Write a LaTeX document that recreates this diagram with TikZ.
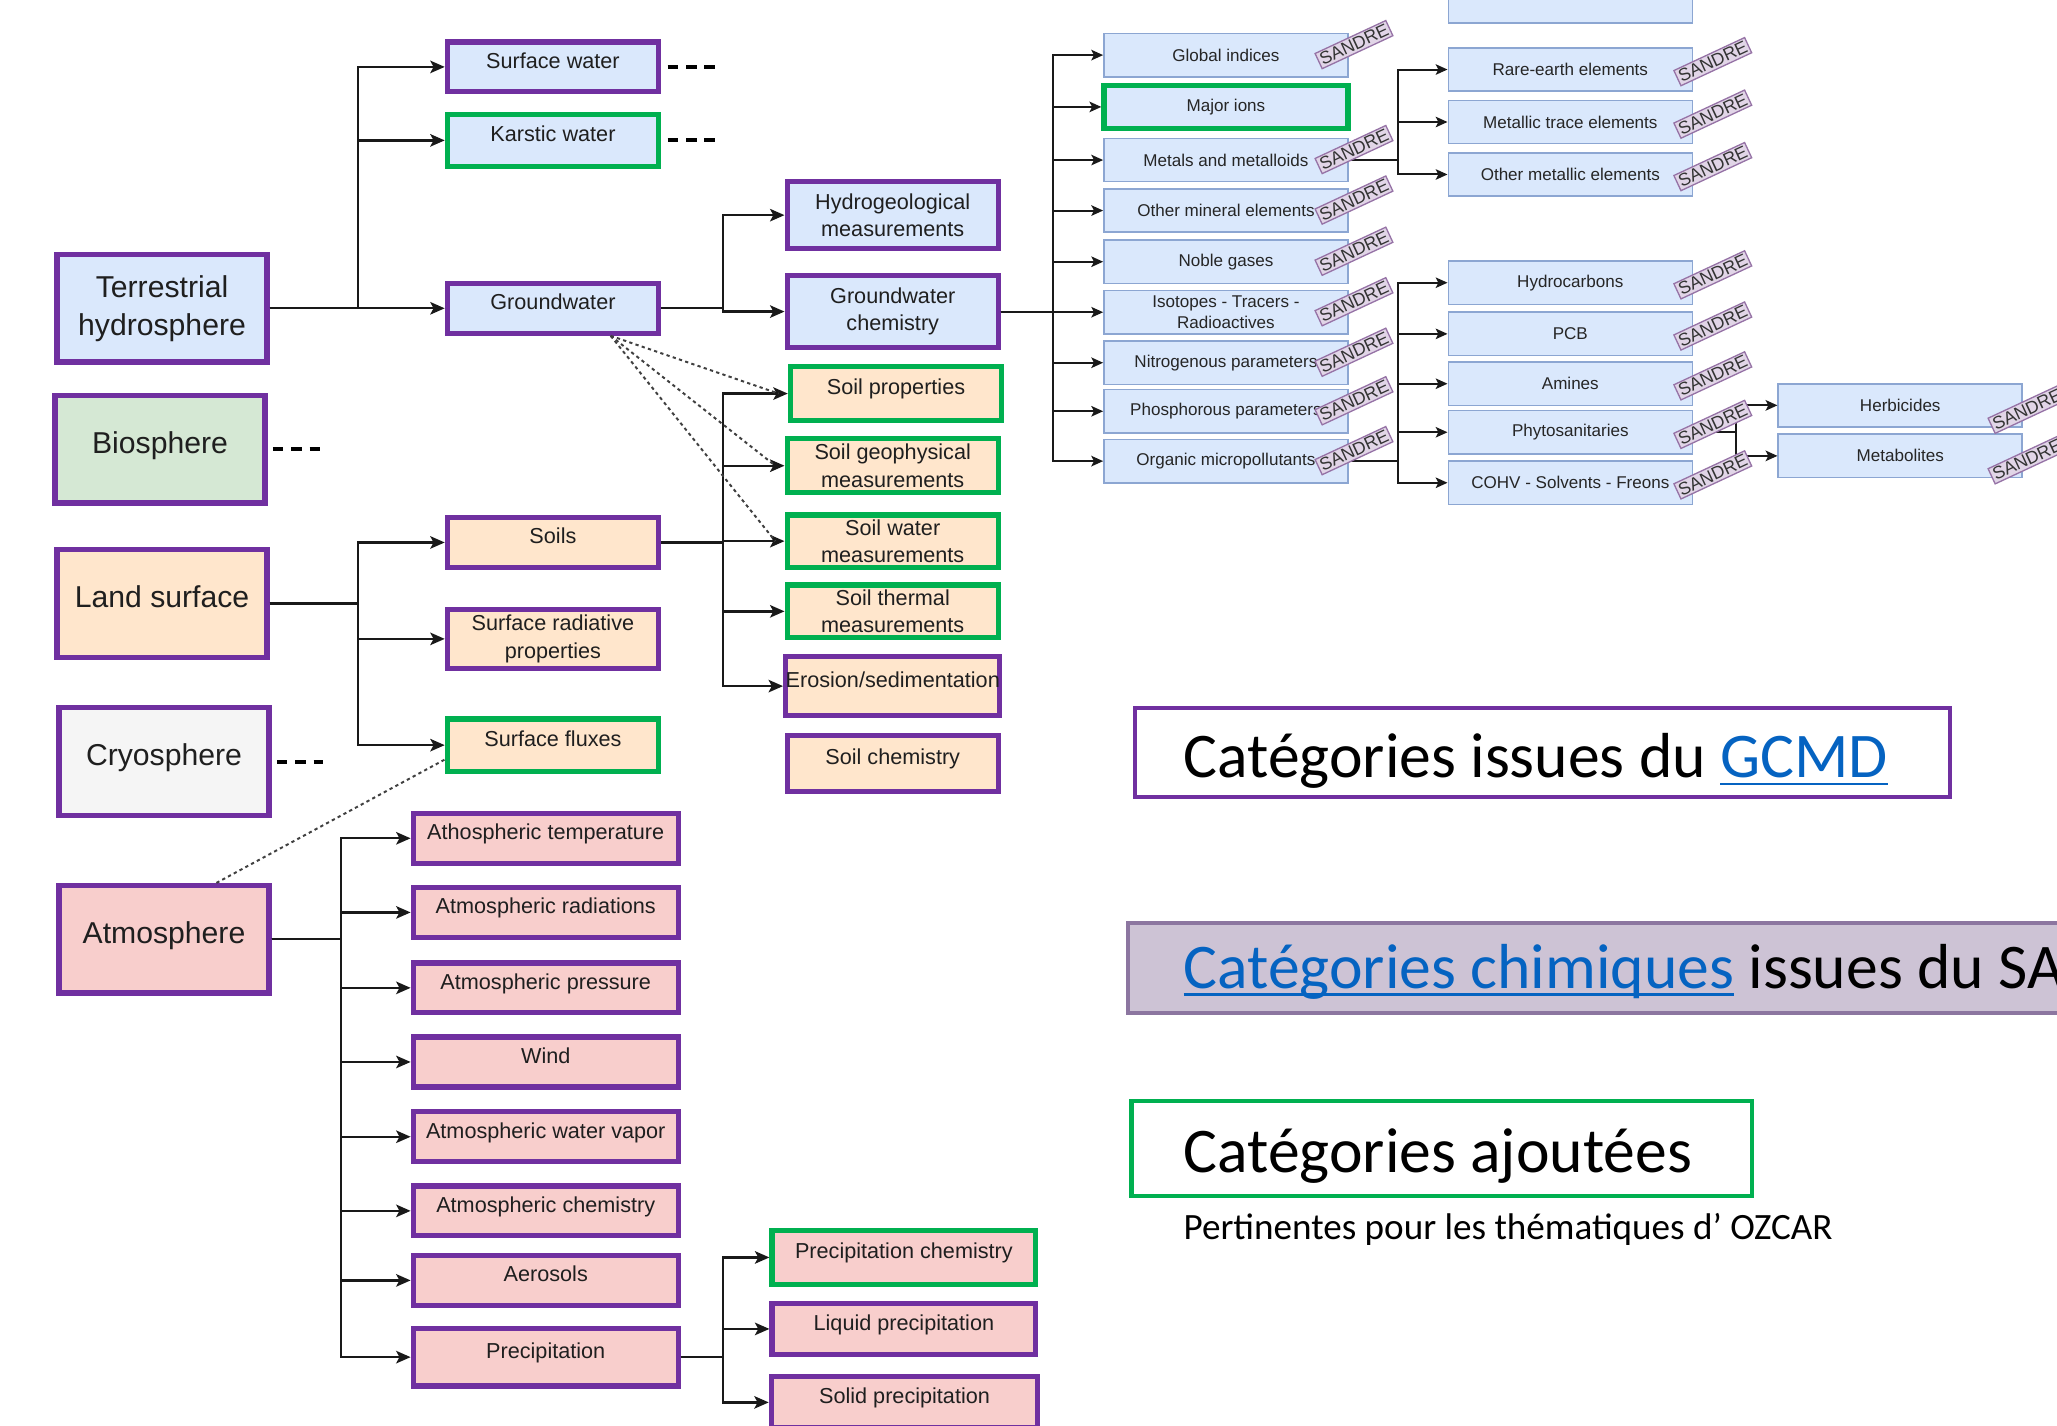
\documentclass[tikz,border=0pt]{standalone}
\usepackage{fontspec}
\usepackage{xcolor}
\usetikzlibrary{arrows.meta,positioning,calc}
\newfontfamily\diafont{Liberation Sans}
\newfontfamily\legfont{Carlito}
\definecolor{cpurple}{RGB}{112,48,160}
\definecolor{cgreen}{RGB}{0,176,80}
\definecolor{cblue}{RGB}{218,232,252}
\definecolor{cblueline}{RGB}{140,166,210}
\definecolor{cpeach}{RGB}{255,230,204}
\definecolor{cpink}{RGB}{248,206,204}
\definecolor{cmint}{RGB}{213,232,212}
\definecolor{cgray}{RGB}{245,245,245}
\definecolor{ctag}{RGB}{225,213,231}
\definecolor{ctagline}{RGB}{150,115,166}
\definecolor{clink}{RGB}{5,99,193}
\definecolor{clegfill}{RGB}{205,195,213}
\definecolor{clegline}{RGB}{140,118,160}
\newcommand{\bigtxt}{\diafont\fontsize{23}{29}\selectfont}
\newcommand{\midtxt}{\diafont\fontsize{16.5}{21}\selectfont}
\newcommand{\chemtxt}{\diafont\fontsize{13}{15.5}\selectfont}
\newcommand{\legbig}{\legfont\fontsize{48.5}{56}\selectfont}
\newcommand{\legsmall}{\legfont\fontsize{28.3}{32}\selectfont}
\newcommand{\lnk}[1]{\textcolor{clink}{\setbox0\hbox{#1}\rlap{\rule[-5.5pt]{\wd0}{1.8pt}}\box0}}

\begin{document}
\begin{tikzpicture}[x=1pt,y=-1pt,>={Stealth[length=11pt,width=9.5pt,inset=2.5pt]},
  cat/.style={draw=cpurple,line width=4pt,align=center,inner sep=0pt,text=black!88},
  maincat/.style={cat,minimum width=160pt,minimum height=82pt,font=\bigtxt},
  subcat/.style={cat,minimum width=161pt,font=\midtxt},
  uptext/.style={text depth=10pt},
  added/.style={draw=cgreen},
  chem/.style={draw=cblueline,line width=1.2pt,fill=cblue,minimum width=186pt,
    minimum height=33pt,inner sep=0pt,align=center,font=\chemtxt,text=black!85},
  sandre/.style={draw=ctagline,fill=ctag,line width=1pt,rotate=25,
    font=\diafont\fontsize{13.5}{13.5}\selectfont,inner sep=1.6pt,text=black!80},
  con/.style={line width=1.8pt,black!90,->},
  elink/.style={line width=1.5pt,black!90,-{Stealth[length=9pt,width=8pt,inset=2pt]}},
  dotcon/.style={line width=1.5pt,black!75,dash pattern=on 2.5pt off 2.5pt},
  dash3/.style={line width=3pt,dash pattern=on 8pt off 6pt},
  legtxt/.style={inner sep=0pt,anchor=base west}]
\useasboundingbox (0,0) rectangle (1568,1087);
\clip (0,0) rectangle (1568,1087);

% main categories
\node[maincat,fill=cblue] (terr) at (123.5,235) {Terrestrial\\hydrosphere};
\node[maincat,uptext,fill=cmint] (bio) at (122,342.5) {Biosphere};
\node[maincat,uptext,fill=cpeach] (land) at (123.5,460) {Land surface};
\node[maincat,uptext,fill=cgray] (cryo) at (125,580.5) {Cryosphere};
\node[maincat,uptext,fill=cpink] (atmo) at (125,716) {Atmosphere};

% second level
\node[subcat,uptext,fill=cblue,minimum height=38pt] (surf) at (421.5,51) {Surface water};
\node[subcat,uptext,added,fill=cblue,minimum height=40pt] (karst) at (421.5,107) {Karstic water};
\node[subcat,uptext,fill=cblue,minimum height=38pt] (gw) at (421.5,235) {Groundwater};
\node[subcat,uptext,fill=cpeach,minimum height=38pt] (soils) at (421.5,413.5) {Soils};
\node[subcat,fill=cpeach,minimum height=45pt] (srad) at (421.5,487) {Surface radiative\\properties};
\node[subcat,uptext,added,fill=cpeach,minimum height=40pt] (sflux) at (421.5,568) {Surface fluxes};
\foreach \nm/\y/\txt in {atemp/639/Athospheric temperature, arad/695.5/Atmospheric radiations,
    apres/753/Atmospheric pressure, wind/809.5/Wind, avap/866.5/Atmospheric water vapor,
    achem/923/Atmospheric chemistry, aero/976/Aerosols}
  \node[subcat,uptext,fill=cpink,minimum width=202pt,minimum height=38pt] (\nm) at (416,\y) {\txt};
\node[subcat,uptext,fill=cpink,minimum width=202pt,minimum height=44pt] (prec) at (416,1034.5) {Precipitation};

% third level
\node[subcat,fill=cblue,minimum height=51pt] (hydro) at (680.5,164) {Hydrogeological\\measurements};
\node[subcat,fill=cblue,minimum height=55pt] (gwchem) at (680.5,237.5) {Groundwater\\chemistry};
\node[subcat,uptext,added,fill=cpeach,minimum height=41pt] (sprop) at (683,300) {Soil properties};
\node[subcat,added,fill=cpeach,minimum height=41pt] (sgeo) at (680.5,355) {Soil geophysical\\measurements};
\node[subcat,added,fill=cpeach,minimum height=40pt] (swat) at (680.5,412.5) {Soil water\\measurements};
\node[subcat,added,fill=cpeach,minimum height=40pt] (stherm) at (680.5,466) {Soil thermal\\measurements};
\node[subcat,uptext,fill=cpeach,minimum height=45pt] (eros) at (680.5,523) {Erosion/sedimentation};
\node[subcat,uptext,fill=cpeach,minimum height=43pt] (schem) at (680.5,582) {Soil chemistry};
\node[subcat,uptext,added,fill=cpink,minimum width=201pt,minimum height=41pt] (pchem) at (689,958.5) {Precipitation chemistry};
\node[subcat,uptext,fill=cpink,minimum width=201pt,minimum height=39pt] (pliq) at (689,1013) {Liquid precipitation};
\node[subcat,uptext,fill=cpink,minimum width=203pt,minimum height=39pt] (psol) at (689.5,1069) {Solid precipitation};

% chemistry (SANDRE)
\foreach \nm/\y/\txt in {glob/42/Global indices, metal/122/Metals and metalloids,
    omin/160.5/Other mineral elements, noble/199.5/Noble gases,
    iso/238/{Isotopes - Tracers -\\Radioactives}, nitro/276.5/Nitrogenous parameters,
    phos/313.5/Phosphorous parameters, orga/351.5/Organic micropollutants}
  \node[chem] (\nm) at (934.5,\y) {\txt};
\node[chem,draw=cgreen,line width=4pt] (major) at (934.5,81.5) {Major ions};
\node[chem] (prev) at (1197,1) {};
\foreach \nm/\y/\txt in {rare/53/Rare-earth elements, mtrace/93/Metallic trace elements,
    ometal/133/Other metallic elements, hydroc/215.5/Hydrocarbons, pcb/254.5/PCB,
    amine/292.5/Amines, phyto/329.5/Phytosanitaries, cohv/368/COHV - Solvents - Freons}
  \node[chem] (\nm) at (1197,\y) {\txt};
\node[chem] (herb) at (1448.5,309) {Herbicides};
\node[chem] (metab) at (1448.5,347.5) {Metabolites};

% junctions
\coordinate (tj) at (273,0);
\coordinate (aj) at (260,0);
\coordinate (gj) at (551,0);
\coordinate (cj) at (803,0);
\coordinate (mj) at (1066,0);
\coordinate (phj) at (1323,0);

\foreach \n in {surf,karst,gw}
  \draw[con] (terr.east) -- (terr.east -| tj) |- (\n.west);
\foreach \n in {soils,srad,sflux}
  \draw[con] (land.east) -- (land.east -| tj) |- (\n.west);
\foreach \n in {atemp,arad,apres,wind,avap,achem,aero,prec}
  \draw[con] (atmo.east) -- (atmo.east -| aj) |- (\n.west);
\foreach \n in {hydro,gwchem}
  \draw[con] (gw.east) -- (gw.east -| gj) |- (\n.west);
\foreach \n in {sprop,sgeo,swat,stherm,eros}
  \draw[con] (soils.east) -- (soils.east -| gj) |- (\n.west);
\foreach \n in {pchem,pliq,psol}
  \draw[con] (prec.east) -- (prec.east -| gj) |- (\n.west);
\foreach \n in {glob,major,metal,omin,noble,iso,nitro,phos,orga}
  \draw[elink] (gwchem.east) -- (gwchem.east -| cj) |- (\n.west);
\foreach \n in {rare,mtrace,ometal}
  \draw[elink] (metal.east) -- (metal.east -| mj) |- (\n.west);
\foreach \n in {hydroc,pcb,amine,phyto,cohv}
  \draw[elink] (orga.east) -- (orga.east -| mj) |- (\n.west);
\foreach \n in {herb,metab}
  \draw[elink] (phyto.east) -- (phyto.east -| phj) |- (\n.west);

% dotted links
\coordinate (gwfoot) at ([xshift=44pt]gw.south);
\foreach \n in {sprop,sgeo,swat}
  \draw[dotcon] (gwfoot) -- ([xshift=-7pt]\n.west);
\draw[dotcon] ([xshift=40pt]atmo.north) -- ([yshift=-11pt]sflux.west);

% open ends
\coordinate (surfend) at (545,51);
\coordinate (karstend) at (545,107);
\coordinate (bioend) at (246,342.5);
\coordinate (cryoend) at (246,580.5);
\draw[dash3] ([xshift=5pt]surf.east) -- (surfend);
\draw[dash3] ([xshift=5pt]karst.east) -- (karstend);
\draw[dash3] ([xshift=4pt]bio.east) -- (bioend);
\draw[dash3] ([xshift=4pt]cryo.east) -- (cryoend);

% SANDRE tags
\foreach \n in {glob,metal,omin,noble,iso,nitro,phos,orga}
  \node[sandre] (tag-\n) at ([xshift=4pt,yshift=8pt]\n.east) {SANDRE};
\foreach \n in {rare,mtrace,ometal,hydroc,pcb,amine,phyto,cohv}
  \node[sandre] (tag-\n) at ([xshift=15pt,yshift=6pt]\n.east) {SANDRE};
\foreach \n in {herb,metab}
  \node[sandre] (tag-\n) at ([xshift=3pt,yshift=-3pt]\n.east) {SANDRE};

% legend
\node[draw=cpurple,line width=3pt,minimum width=621pt,minimum height=68pt] (lgcmd) at (1176,573.5) {};
\node[draw=clegline,fill=clegfill,line width=3pt,minimum width=880pt,minimum height=69pt] (lsandre) at (1300,738) {};
\node[draw=cgreen,line width=3.2pt,minimum width=473pt,minimum height=72pt] (ladded) at (1099,875.5) {};
\node[legtxt,font=\legbig] (tgcmd) at (902,593) {Catégories issues du \lnk{GCMD}};
\node[legtxt,font=\legbig] (tsandre) at (902,753.5) {\lnk{Catégories chimiques} issues du SANDRE};
\node[legtxt,font=\legbig] (tadded) at (902,893.5) {Catégories ajoutées};
\node[legtxt,font=\legsmall] (tozcar) at (902,945) {Pertinentes pour les thématiques d’ OZCAR};
\end{tikzpicture}
\end{document}
